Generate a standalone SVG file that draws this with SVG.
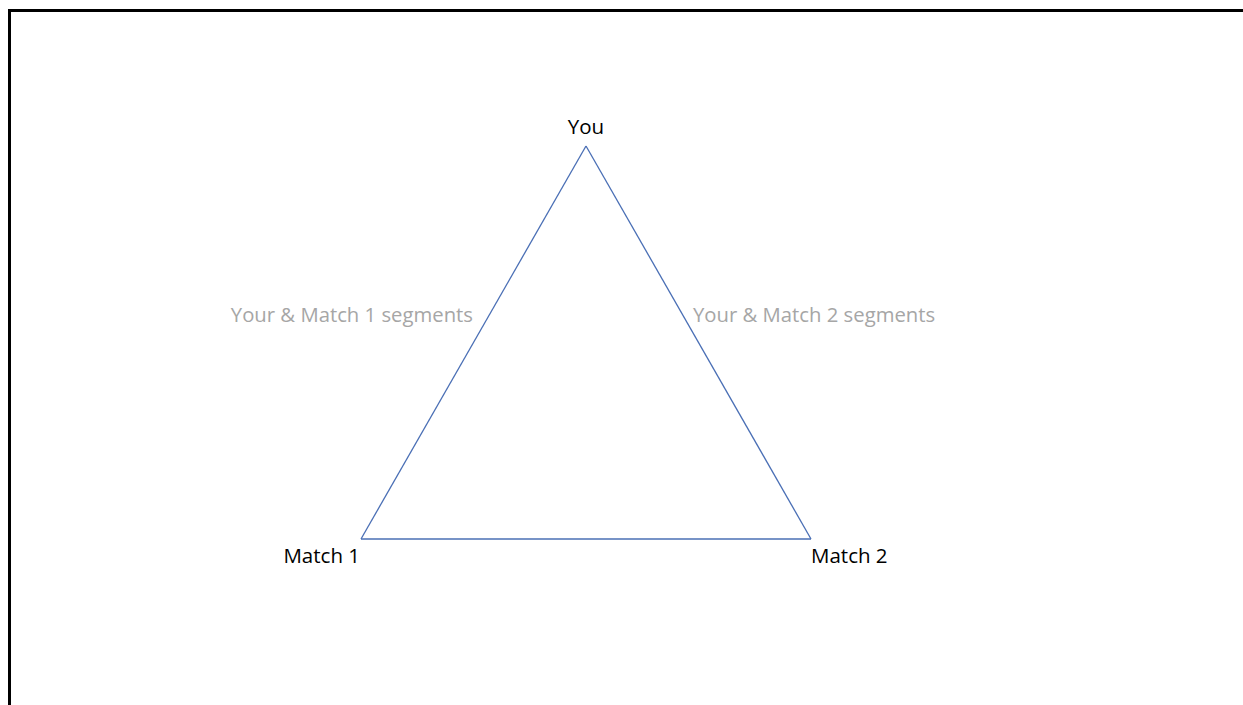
<svg xmlns="http://www.w3.org/2000/svg" width="1243" height="705" viewBox="0 0 1243 705">
<style>
.lbl{font-family:"Open Sans","Liberation Sans",sans-serif;font-size:20.5px;fill:#000}
.seg{font-family:"Open Sans","Liberation Sans",sans-serif;font-size:20.3px;fill:#A6A6A6}
.edge{stroke:#4A6FB5;stroke-width:1.3;fill:none}
</style>
<rect x="0" y="0" width="1243" height="705" fill="#fff"/>
<path d="M9.5,705 V10.5 H1243" stroke="#000" stroke-width="3" fill="none"/>
<g id="connectors">
<line class="edge" x1="586" y1="146" x2="361" y2="539"/>
<line class="edge" x1="586" y1="146" x2="811" y2="539"/>
<line class="edge" x1="361" y1="539" x2="811" y2="539"/>
</g>
<g id="you"><text class="lbl" x="586" y="134" text-anchor="middle">You</text></g>
<g id="match1"><text class="lbl" x="360" y="563" text-anchor="end">Match 1</text></g>
<g id="match2"><text class="lbl" x="811" y="563">Match 2</text></g>
<g id="seg1"><text class="seg" x="473" y="322" text-anchor="end">Your &amp; Match 1 segments</text></g>
<g id="seg2"><text class="seg" x="693" y="322">Your &amp; Match 2 segments</text></g>
</svg>
